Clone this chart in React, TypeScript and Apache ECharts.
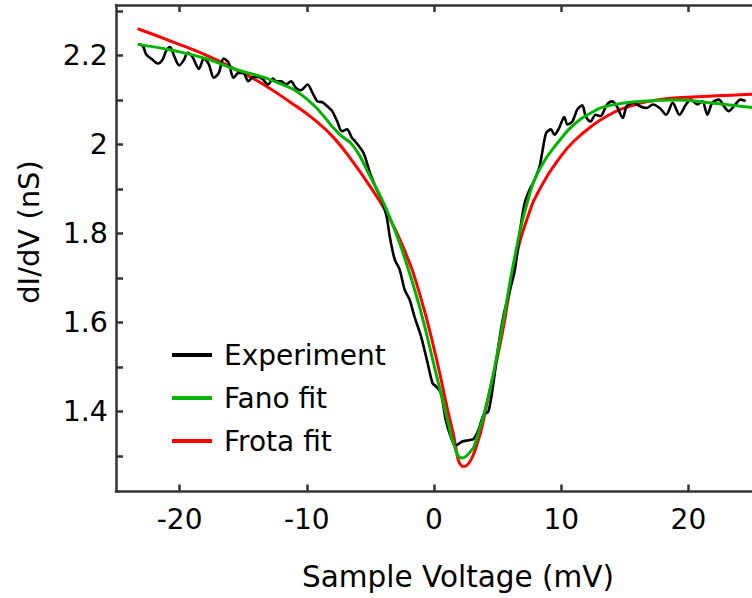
import React, { useEffect, useRef } from "react";
import * as echarts from "echarts";

const expX = [-23.19, -22.88, -22.62, -22.23, -21.71, -21.33, -21.07, -20.75, -20.42, -20.03, -19.64, -19.39, -19.0, -18.48, -18.09, -17.7, -17.31, -16.92, -16.54, -16.15, -15.76, -15.37, -14.99, -14.6, -14.21, -13.82, -13.51, -13.05, -12.66, -12.4, -12.01, -11.63, -11.24, -10.85, -10.46, -9.94, -9.55, -9.17, -8.78, -8.39, -8.0, -7.61, -7.23, -6.84, -6.45, -6.19, -5.54, -5.03, -4.51, -4.12, -3.73, -3.48, -3.09, -2.7, -2.31, -1.92, -1.54, -1.02, -0.5, -0.11, 0.15, 0.54, 0.92, 1.31, 1.7, 2.22, 2.73, 3.12, 3.51, 3.9, 4.28, 4.67, 5.06, 5.45, 5.84, 6.36, 6.74, 7.13, 7.52, 7.91, 8.3, 8.55, 8.82, 9.2, 9.46, 9.85, 10.24, 10.49, 10.88, 11.27, 11.66, 11.92, 12.31, 12.7, 13.08, 13.6, 13.99, 14.37, 14.84, 15.15, 15.67, 16.19, 16.7, 17.22, 17.74, 18.25, 18.77, 19.29, 19.81, 20.19, 20.71, 21.1, 21.49, 21.88, 22.4, 22.79, 23.17, 23.69, 24.08, 24.5];
const expY = [2.225, 2.221, 2.202, 2.193, 2.182, 2.191, 2.21, 2.219, 2.198, 2.178, 2.191, 2.206, 2.197, 2.17, 2.193, 2.18, 2.15, 2.161, 2.193, 2.184, 2.15, 2.161, 2.161, 2.142, 2.152, 2.152, 2.148, 2.135, 2.148, 2.142, 2.142, 2.135, 2.142, 2.127, 2.122, 2.135, 2.116, 2.097, 2.095, 2.086, 2.075, 2.052, 2.03, 2.034, 2.015, 2.007, 1.981, 1.936, 1.899, 1.876, 1.839, 1.794, 1.742, 1.719, 1.674, 1.652, 1.614, 1.569, 1.509, 1.464, 1.457, 1.442, 1.382, 1.344, 1.324, 1.333, 1.336, 1.339, 1.36, 1.393, 1.401, 1.464, 1.547, 1.614, 1.659, 1.719, 1.802, 1.869, 1.899, 1.921, 1.951, 1.989, 2.026, 2.034, 2.022, 2.038, 2.062, 2.045, 2.052, 2.079, 2.088, 2.064, 2.052, 2.067, 2.064, 2.09, 2.097, 2.086, 2.06, 2.086, 2.094, 2.086, 2.082, 2.09, 2.082, 2.067, 2.094, 2.067, 2.09, 2.101, 2.09, 2.097, 2.067, 2.094, 2.101, 2.086, 2.075, 2.09, 2.101, 2.098];

const fanoX = [-23.3, -20.29, -17.7, -15.63, -12.53, -9.94, -7.5, -6.32, -5.03, -3.73, -2.44, -1.15, 0.15, 1.18, 1.44, 2.22, 3.0, 3.25, 4.28, 5.32, 6.36, 7.39, 8.43, 9.98, 11.01, 12.4, 13.86, 16.45, 19.03, 21.62, 24.08, 25];
const fanoY = [2.225, 2.21, 2.191, 2.169, 2.142, 2.101, 2.025, 1.996, 1.929, 1.854, 1.757, 1.637, 1.487, 1.367, 1.337, 1.296, 1.315, 1.33, 1.434, 1.584, 1.749, 1.876, 1.951, 2.013, 2.045, 2.072, 2.088, 2.097, 2.1, 2.094, 2.086, 2.083];

const frotaX = [-23.3, -20.29, -17.7, -15.63, -13.82, -11.24, -9.42, -7.87, -6.32, -5.03, -3.73, -2.44, -1.15, 0.15, 1.44, 2.35, 3.25, 4.28, 5.32, 6.36, 7.39, 8.43, 9.98, 11.01, 12.56, 13.8, 15.15, 17.74, 20.33, 24.08, 25];
const frotaY = [2.26, 2.228, 2.198, 2.169, 2.142, 2.094, 2.056, 2.015, 1.959, 1.906, 1.847, 1.771, 1.667, 1.524, 1.36, 1.277, 1.315, 1.434, 1.569, 1.734, 1.839, 1.906, 1.974, 2.008, 2.045, 2.067, 2.084, 2.101, 2.107, 2.112, 2.113];

const xTicks = [-20, -10, 0, 10, 20];
const yLabels = [1.4, 1.6, 1.8, 2.0, 2.2];
const yTicks = [1.3, 1.4, 1.5, 1.6, 1.7, 1.8, 1.9, 2.0, 2.1, 2.2, 2.3];

const FONT = "DejaVu Sans";
const AXIS_COLOR = "#333";

function zip(xs: number[], ys: number[]) {
  return xs.map((x, i) => [x, ys[i]]);
}

export default function App() {
  const ref = useRef<HTMLDivElement>(null);
  useEffect(() => {
    if (!ref.current) return;
    const chart = echarts.init(ref.current, null, { renderer: "svg" });
    const axisLine = { show: true, onZero: false, lineStyle: { color: AXIS_COLOR, width: 2.5 } };
    const axisTick = { show: true, inside: true, length: 7, lineStyle: { color: AXIS_COLOR, width: 2.5 } };
    chart.setOption({
      animation: false,
      backgroundColor: "#fff",
      grid: { left: 116, top: 5, right: -8, bottom: 106.5, containLabel: false },
      xAxis: [
        {
          type: "value",
          min: -25,
          max: 25,
          position: "bottom",
          axisLine,
          axisTick: { ...axisTick, customValues: xTicks },
          axisLabel: { customValues: xTicks, color: "#000", fontFamily: FONT, fontSize: 28, margin: 14 },
          splitLine: { show: false },
        },
        {
          type: "value",
          min: -25,
          max: 25,
          position: "top",
          axisLine,
          axisTick: { ...axisTick, customValues: xTicks },
          axisLabel: { show: false },
          splitLine: { show: false },
        },
      ],
      yAxis: [
        {
          type: "value",
          min: 1.2208,
          max: 2.3134,
          position: "left",
          axisLine,
          axisTick: { ...axisTick, customValues: yTicks },
          axisLabel: { customValues: yLabels, color: "#000", fontFamily: FONT, fontSize: 28.5, margin: 8 },
          splitLine: { show: false },
        },
      ],
      legend: {
        orient: "vertical",
        left: 167,
        top: 336,
        icon: "rect",
        itemWidth: 40,
        itemHeight: 4,
        itemGap: 15,
        textStyle: { color: "#000", fontFamily: FONT, fontSize: 28, lineHeight: 28, padding: [0, 0, 0, 7] },
        data: ["Experiment", "Fano fit", "Frota fit"],
      },
      graphic: [
        {
          type: "text",
          x: 29,
          y: 232,
          rotation: Math.PI / 2,
          style: { text: "dI/dV (nS)", fill: "#000", font: `29px "${FONT}"`, align: "center", verticalAlign: "middle" },
        },
        {
          type: "text",
          x: 458,
          y: 577,
          style: { text: "Sample Voltage (mV)", fill: "#000", font: `29.5px "${FONT}"`, align: "center", verticalAlign: "middle" },
        },
      ],
      series: [
        {
          name: "Experiment",
          type: "line",
          data: zip(expX, expY),
          showSymbol: false,
          smooth: 0.3,
          lineStyle: { color: "#000", width: 2.6 },
          itemStyle: { color: "#000" },
          z: 3,
        },
        {
          name: "Fano fit",
          type: "line",
          data: zip(fanoX, fanoY),
          showSymbol: false,
          smooth: true,
          lineStyle: { color: "#00b400", width: 3 },
          itemStyle: { color: "#00b400" },
          z: 4,
        },
        {
          name: "Frota fit",
          type: "line",
          data: zip(frotaX, frotaY),
          showSymbol: false,
          smooth: true,
          lineStyle: { color: "#ff0000", width: 3 },
          itemStyle: { color: "#ff0000" },
          z: 2,
        },
      ],
    });
    return () => chart.dispose();
  }, []);
  return (
    <div style={{ position: "fixed", left: 0, top: 0, width: 752, height: 598, background: "#fff" }}>
      <div ref={ref} style={{ width: 752, height: 598 }} />
    </div>
  );
}
